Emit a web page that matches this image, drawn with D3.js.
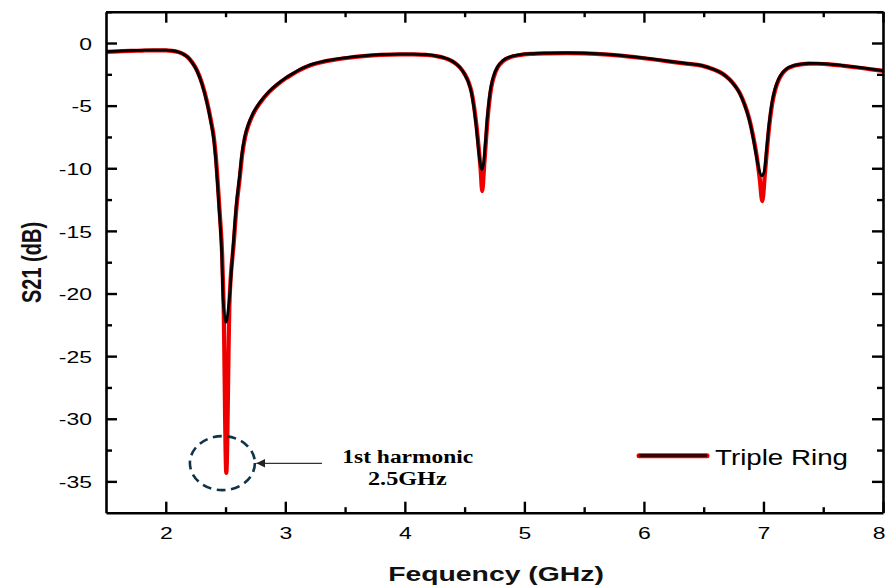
<!DOCTYPE html>
<html><head><meta charset="utf-8">
<script src="https://cdn.jsdelivr.net/npm/d3@7"></script>
<style>
html,body{margin:0;padding:0;background:#fff;}
svg{display:block;}
</style></head>
<body>
<svg id="chart" width="886" height="588"></svg>
<script>
// ---- data ----
const freqGHz = [1.50,1.60,1.70,1.80,1.90,2.00,2.05,2.10,2.14,2.18,2.22,2.26,2.30,2.345,2.375,2.40,2.415,2.432,2.45,2.468,2.48,2.503,2.53,2.565,2.59,2.615,2.636,2.66,2.69,2.73,2.79,2.86,2.93,3.00,3.06,3.12,3.18,3.24,3.31,3.40,3.51,3.65,3.79,3.95,4.07,4.18,4.26,4.32,4.37,4.42,4.46,4.50,4.53,4.555,4.575,4.595,4.615,4.63,4.644,4.66,4.675,4.69,4.705,4.72,4.745,4.775,4.82,4.88,4.95,5.05,5.20,5.35,5.50,5.70,5.92,6.05,6.20,6.35,6.48,6.57,6.65,6.71,6.76,6.80,6.84,6.88,6.91,6.94,6.965,6.987,7.008,7.025,7.045,7.07,7.095,7.125,7.16,7.20,7.25,7.31,7.38,7.45,7.55,7.67,7.80,7.90,8.00];
const s21Red = [-0.68,-0.64,-0.61,-0.58,-0.56,-0.56,-0.60,-0.70,-0.85,-1.10,-1.55,-2.20,-3.20,-4.80,-6.20,-7.6,-9.0,-11.2,-13.8,-16.8,-20.6,-34.3,-20.6,-16.0,-12.9,-10.8,-8.9,-7.5,-6.5,-5.6,-4.7,-3.9,-3.3,-2.8,-2.45,-2.12,-1.85,-1.65,-1.48,-1.32,-1.17,-1.02,-0.92,-0.88,-0.88,-0.93,-1.02,-1.15,-1.32,-1.6,-1.95,-2.5,-3.1,-3.9,-5.0,-6.5,-8.4,-10.0,-11.8,-9.8,-7.8,-5.9,-4.5,-3.5,-2.55,-1.9,-1.4,-1.1,-0.95,-0.85,-0.8,-0.78,-0.8,-0.9,-1.1,-1.25,-1.44,-1.62,-1.78,-2.05,-2.4,-2.85,-3.4,-4.0,-4.9,-6.1,-7.4,-9.0,-10.8,-12.6,-10.5,-8.6,-6.6,-4.8,-3.7,-2.9,-2.35,-2.0,-1.8,-1.68,-1.62,-1.63,-1.68,-1.8,-1.95,-2.08,-2.2];
const s21Black = [-0.68,-0.64,-0.61,-0.58,-0.56,-0.56,-0.60,-0.70,-0.85,-1.10,-1.55,-2.20,-3.20,-4.80,-6.20,-7.6,-9.0,-11.2,-13.8,-16.8,-20.6,-22.3,-20.6,-16.0,-12.9,-10.8,-8.9,-7.5,-6.5,-5.6,-4.7,-3.9,-3.3,-2.8,-2.45,-2.12,-1.85,-1.65,-1.48,-1.32,-1.17,-1.02,-0.92,-0.88,-0.88,-0.93,-1.02,-1.15,-1.32,-1.6,-1.95,-2.5,-3.1,-3.9,-5.0,-6.5,-8.4,-9.6,-10.1,-9.5,-7.8,-5.9,-4.5,-3.5,-2.55,-1.9,-1.4,-1.1,-0.95,-0.85,-0.8,-0.78,-0.8,-0.9,-1.1,-1.25,-1.44,-1.62,-1.78,-2.05,-2.4,-2.85,-3.4,-4.0,-4.9,-6.1,-7.4,-9.0,-10.2,-10.6,-10.2,-8.6,-6.6,-4.8,-3.7,-2.9,-2.35,-2.0,-1.8,-1.68,-1.62,-1.63,-1.68,-1.8,-1.95,-2.08,-2.2];
const xMajorTicks = [2,3,4,5,6,7,8];
const xMinorTicks = [2.5,3.5,4.5,5.5,6.5,7.5];
const yMajorTicks = [0,-5,-10,-15,-20,-25,-30,-35];
const yMinorTicks = [2.5,-2.5,-7.5,-12.5,-17.5,-22.5,-27.5,-32.5];
const xDomain = [1.5, 8];
const yDomain = [-37.5, 2.5];
const legendLabel = "Triple Ring";
const xTitle = "Fequency (GHz)";
const yTitle = "S21 (dB)";
const annotLines = ["1st harmonic", "2.5GHz"];
const annotFreq = 2.503, annotDb = -34.3;

// ---- layout ----
const L = 106, R = 883, T = 11.7, B = 512.7;
const SX = 1.35; // horizontal glyph stretch of the reference
const sans = "'Liberation Sans', Arial, Helvetica, sans-serif";
const serif = "'Liberation Serif', 'Times New Roman', serif";
const fmt = d => String(d);

const svg = d3.select("#chart");
const x = d3.scaleLinear().domain(xDomain).range([L, R]);
const y = d3.scaleLinear().domain(yDomain).range([B, T]);

// curves
const pts = (vals) => freqGHz.map((f, i) => [f, vals[i]]);
const line = d3.line().x(d => x(d[0])).y(d => y(d[1])).curve(d3.curveMonotoneX);
const plot = svg.append("g");
plot.append("path").attr("d", line(pts(s21Red))).attr("fill", "none")
  .attr("stroke", "#ee0000").attr("stroke-width", 4.2).attr("stroke-linejoin", "round")
  .attr("transform", "translate(0.4,0.3)");
plot.append("path").attr("d", line(pts(s21Black))).attr("fill", "none")
  .attr("stroke", "#000").attr("stroke-width", 2.8).attr("stroke-linejoin", "round");

// axes
function styleAxis(g) {
  g.select(".domain").attr("stroke", "#000").attr("stroke-width", 2.6);
  g.selectAll(".tick line").attr("stroke", "#000").attr("stroke-width", 2.4);
}
const axB = svg.append("g").attr("transform", `translate(0,${B})`)
  .call(d3.axisBottom(x).tickValues(xMajorTicks).tickSizeInner(-11).tickSizeOuter(0).tickPadding(14.6).tickFormat(fmt));
axB.call(styleAxis);
axB.selectAll("text").attr("font-family", sans).attr("font-size", 17).attr("fill", "#000")
  .attr("transform", `scale(${SX},1)`)
  .attr("text-anchor", d => d === 8 ? "end" : "middle")
  .attr("x", d => d === 8 ? (885 - x(8)) / SX : 0);
svg.append("g").attr("transform", `translate(0,${B})`)
  .call(d3.axisBottom(x).tickValues(xMinorTicks).tickSizeInner(-5.5).tickSizeOuter(0).tickFormat(""))
  .call(styleAxis).select(".domain").remove();

const axT = svg.append("g").attr("transform", `translate(0,${T})`)
  .call(d3.axisTop(x).tickValues(xMajorTicks).tickSizeInner(-11).tickSizeOuter(0).tickFormat(""));
axT.call(styleAxis);
svg.append("g").attr("transform", `translate(0,${T})`)
  .call(d3.axisTop(x).tickValues(xMinorTicks).tickSizeInner(-5.5).tickSizeOuter(0).tickFormat(""))
  .call(styleAxis).select(".domain").remove();

const axL = svg.append("g").attr("transform", `translate(${L},0)`)
  .call(d3.axisLeft(y).tickValues(yMajorTicks).tickSizeInner(-11).tickSizeOuter(0).tickPadding(14).tickFormat(fmt));
axL.call(styleAxis);
axL.selectAll("text").attr("font-family", sans).attr("font-size", 17).attr("fill", "#000")
  .attr("transform", `scale(${SX},1)`).attr("x", -14 / SX).attr("dy", "0.36em");
svg.append("g").attr("transform", `translate(${L},0)`)
  .call(d3.axisLeft(y).tickValues(yMinorTicks).tickSizeInner(-6).tickSizeOuter(0).tickFormat(""))
  .call(styleAxis).select(".domain").remove();

const axR = svg.append("g").attr("transform", `translate(${R},0)`)
  .call(d3.axisRight(y).tickValues(yMajorTicks).tickSizeInner(-11).tickSizeOuter(0).tickFormat(""));
axR.call(styleAxis);
svg.append("g").attr("transform", `translate(${R},0)`)
  .call(d3.axisRight(y).tickValues(yMinorTicks).tickSizeInner(-6).tickSizeOuter(0).tickFormat(""))
  .call(styleAxis).select(".domain").remove();

// titles
svg.append("g").attr("transform", `translate(496,581) scale(${SX},1)`)
  .append("text").attr("text-anchor", "middle").attr("font-family", sans)
  .attr("font-weight", "bold").attr("font-size", 21).attr("fill", "#111").text(xTitle);
svg.append("g").attr("transform", `translate(41,262.5) scale(${SX},1) rotate(-90)`)
  .append("text").attr("text-anchor", "middle").attr("font-family", sans)
  .attr("font-weight", "bold").attr("font-size", 20).attr("fill", "#111").text(yTitle);

// legend
const lg = svg.append("g");
lg.append("line").attr("x1", 639).attr("x2", 707).attr("y1", 455.7).attr("y2", 455.7)
  .attr("stroke", "#ee0000").attr("stroke-width", 5).attr("stroke-linecap", "round");
lg.append("line").attr("x1", 640).attr("x2", 706).attr("y1", 455.5).attr("y2", 455.5)
  .attr("stroke", "#3a0000").attr("stroke-width", 3).attr("stroke-linecap", "round");
lg.append("text").attr("x", 715).attr("y", 464.5).attr("font-family", sans).attr("font-size", 22)
  .attr("fill", "#000").attr("textLength", 133).attr("lengthAdjust", "spacingAndGlyphs").text(legendLabel);

// annotation
const cx = x(annotFreq) - 3.5, cy = y(annotDb) - 9.5;
svg.append("ellipse").attr("cx", cx).attr("cy", cy).attr("rx", 32.5).attr("ry", 27)
  .attr("fill", "none").attr("stroke", "#0f3348").attr("stroke-width", 2.6).attr("stroke-dasharray", "9,5.5");
svg.append("defs").append("marker").attr("id", "ah").attr("viewBox", "0 0 10 10")
  .attr("refX", 10).attr("refY", 5).attr("markerWidth", 9).attr("markerHeight", 9)
  .attr("markerUnits", "userSpaceOnUse").attr("orient", "auto")
  .append("path").attr("d", "M0,0 L10,5 L0,10 Z").attr("fill", "#222");
svg.append("line").attr("x1", 322).attr("x2", cx + 34).attr("y1", 463.3).attr("y2", 463.3)
  .attr("stroke", "#333").attr("stroke-width", 1.2).attr("marker-end", "url(#ah)");
const at = svg.append("g").attr("font-family", serif).attr("font-weight", "bold").attr("font-size", 18).attr("fill", "#000");
at.append("text").attr("x", 342.3).attr("y", 463.3).attr("textLength", 131).attr("lengthAdjust", "spacingAndGlyphs").text(annotLines[0]);
at.append("text").attr("x", 368).attr("y", 485).attr("textLength", 78.7).attr("lengthAdjust", "spacingAndGlyphs").text(annotLines[1]);
</script>
</body></html>
